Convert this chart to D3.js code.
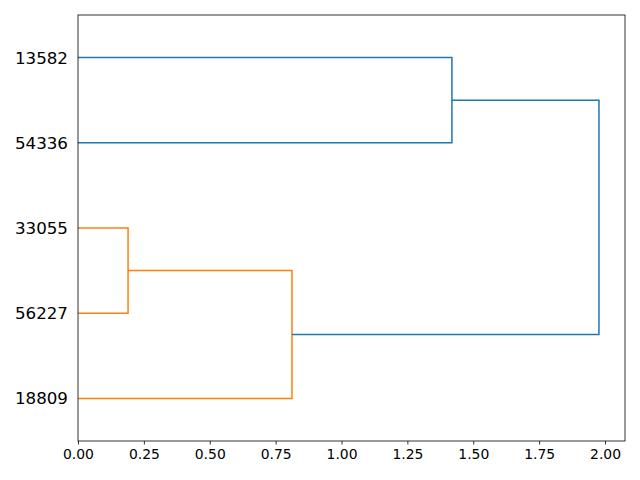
<!DOCTYPE html>
<html><head><meta charset="utf-8">
<script src="https://cdn.jsdelivr.net/npm/d3@7"></script>
<style>body{margin:0;background:#fff}svg{display:block}text{font-family:"DejaVu Sans",sans-serif}</style>
</head><body><div id="chart"></div>
<script>
// Leaves from top to bottom
const leaves = ["13582", "54336", "33055", "56227", "18809"];
// Merges: [left child, right child, distance, color]
const merges = [
  ["33055", "56227", 0.19, "#ff7f0e"],
  ["m0", "18809", 0.812, "#ff7f0e"],
  ["13582", "54336", 1.419, "#1f77b4"],
  ["m2", "m1", 1.977, "#1f77b4"]
];
const xTicks = [0, 0.25, 0.5, 0.75, 1.0, 1.25, 1.5, 1.75, 2.0];

const W = 640, H = 480;
const m = {left: 78, right: 15, top: 15, bottom: 39};
const iw = W - m.left - m.right, ih = H - m.top - m.bottom;

const svg = d3.select("#chart").append("svg").attr("width", W).attr("height", H);
const g = svg.append("g").attr("transform", `translate(${m.left},${m.top})`);

const maxD = d3.max(merges, d => d[2]);
const x = d3.scaleLinear().domain([0, maxD * 1.05]).range([0, iw]);
const y = d3.scaleLinear().domain([0, leaves.length * 10]).range([0, ih]);

const pos = {};
leaves.forEach((l, i) => pos[l] = {y: 5 + i * 10, d: 0});
merges.forEach((mg, i) => {
  const a = pos[mg[0]], b = pos[mg[1]];
  pos["m" + i] = {y: (a.y + b.y) / 2, d: mg[2]};
  const path = d3.path();
  path.moveTo(x(a.d), y(a.y));
  path.lineTo(x(mg[2]), y(a.y));
  path.lineTo(x(mg[2]), y(b.y));
  path.lineTo(x(b.d), y(b.y));
  g.append("path").attr("d", path.toString()).attr("fill", "none")
    .attr("stroke", mg[3]).attr("stroke-width", 1.5);
});

// x axis
const xa = g.append("g").attr("transform", `translate(0,${ih})`)
  .call(d3.axisBottom(x).tickValues(xTicks).tickFormat(d3.format(".2f")).tickSize(3.5).tickPadding(4.9));
xa.select(".domain").remove();
xa.selectAll("line").attr("stroke", "#000").attr("stroke-width", 0.8);
xa.selectAll("text").attr("font-size", "13.9px").attr("fill", "#000").attr("font-family", "DejaVu Sans");

// y labels
g.selectAll(".leaf").data(leaves).enter().append("text")
  .attr("x", -10).attr("y", (d, i) => y(5 + i * 10)).attr("dy", "0.36em")
  .attr("text-anchor", "end").attr("font-size", "16.7px").attr("fill", "#000").text(d => d);

// frame
g.append("rect").attr("width", iw).attr("height", ih).attr("fill", "none")
  .attr("stroke", "#000").attr("stroke-width", 0.8);
</script></body></html>
